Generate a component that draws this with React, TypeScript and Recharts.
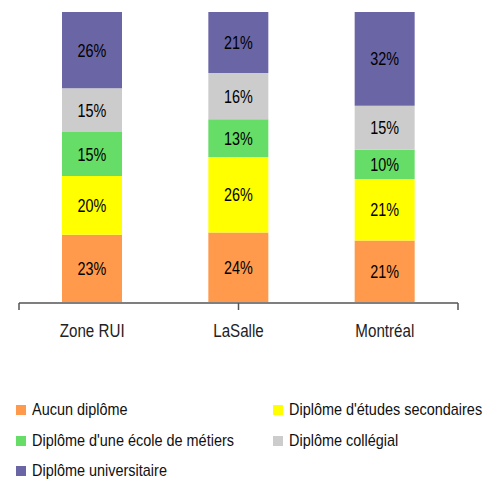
import { Bar, BarChart, LabelList, XAxis, YAxis } from "recharts"

const categories = ["Zone RUI", "LaSalle", "Montréal"]

const aucunDiplome = [23, 24, 21]
const etudesSecondaires = [20, 26, 21]
const ecoleMetiers = [15, 13, 10]
const collegial = [15, 16, 15]
const universitaire = [26, 21, 32]

const boundaryTicks = [0, 1, 2, 3]

const FONT = "'Liberation Sans', Arial, sans-serif"

const series = [
  { key: "aucun", name: "Aucun diplôme", color: "#ff9a4d", text: "#222", values: aucunDiplome },
  { key: "secondaires", name: "Diplôme d'études secondaires", color: "#ffff00", text: "#222", values: etudesSecondaires },
  { key: "metiers", name: "Diplôme d'une école de métiers", color: "#66dd66", text: "#222", values: ecoleMetiers },
  { key: "collegial", name: "Diplôme collégial", color: "#cccccc", text: "#222", values: collegial },
  { key: "universitaire", name: "Diplôme universitaire", color: "#6a66a5", text: "#fff", values: universitaire },
]

// legend order in the picture (two columns)
const legendOrder = ["aucun", "secondaires", "metiers", "collegial", "universitaire"]

const data = categories.map((name, i) => {
  const row: Record<string, any> = { name }
  series.forEach(s => {
    row[s.key] = s.values[i]
  })
  return row
})

// text in the source is narrow and tall, squeeze it horizontally
function NarrowText({ x, y, size, fill, children, sx = 0.8 }: any) {
  return (
    <text
      transform={`translate(${x},${y}) scale(${sx},1)`}
      textAnchor="middle"
      dominantBaseline="central"
      fill={fill}
      fontFamily={FONT}
      fontSize={size}
    >
      {children}
    </text>
  )
}

function SegmentLabel({ x, y, width, height, index, values, fill }: any) {
  if (index == null) return null
  return (
    <NarrowText x={x + width / 2} y={y + height / 2} size={18} fill={fill}>
      {values[index]}%
    </NarrowText>
  )
}

function CategoryTick({ x, y, payload }: any) {
  return (
    <NarrowText x={x} y={y + 21} size={18.5} fill="#222" sx={0.82}>
      {payload.value}
    </NarrowText>
  )
}

const EmptyTick = () => <g />

export default function App() {
  return (
    <div style={{ position: "absolute", left: 0, top: 0, width: 489, height: 482, background: "#fff" }}>
      <BarChart
        width={489}
        height={360}
        data={data}
        stackOffset="expand"
        barSize={60}
        margin={{ top: 12, right: 31, left: 19, bottom: 56 }}
      >
        <XAxis
          xAxisId="cat"
          dataKey="name"
          height={1}
          axisLine={false}
          tickLine={false}
          tick={<CategoryTick />}
          interval={0}
        />
        <XAxis
          xAxisId="grid"
          type="number"
          domain={[0, 3]}
          ticks={boundaryTicks}
          interval={0}
          height={1}
          tick={EmptyTick}
          tickSize={7}
          axisLine={{ stroke: "#555", strokeWidth: 1.5 }}
          tickLine={{ stroke: "#555", strokeWidth: 1.5 }}
        />
        <YAxis hide domain={[0, 1]} />
        {series.map(s => (
          <Bar
            key={s.key}
            xAxisId="cat"
            dataKey={s.key}
            stackId="a"
            fill={s.color}
            isAnimationActive={false}
          >
            <LabelList content={<SegmentLabel values={s.values} fill={s.text} />} />
          </Bar>
        ))}
      </BarChart>
      {legendOrder.map((k, i) => {
        const s = series.find(v => v.key === k)!
        const col = i % 2
        const row = Math.floor(i / 2)
        return (
          <div
            key={k}
            style={{
              position: "absolute",
              left: col === 0 ? 16 : 273,
              top: 400 + row * 30.5,
              height: 20,
              display: "flex",
              alignItems: "center",
              fontFamily: FONT,
              fontSize: 17,
              color: "#111",
              whiteSpace: "nowrap",
            }}
          >
            <span style={{ width: 10, height: 10, background: s.color, marginRight: 6, display: "inline-block", flex: "none" }} />
            <span style={{ display: "inline-block", transform: "scaleX(0.85)", transformOrigin: "left center" }}>
              {s.name}
            </span>
          </div>
        )
      })}
    </div>
  )
}
